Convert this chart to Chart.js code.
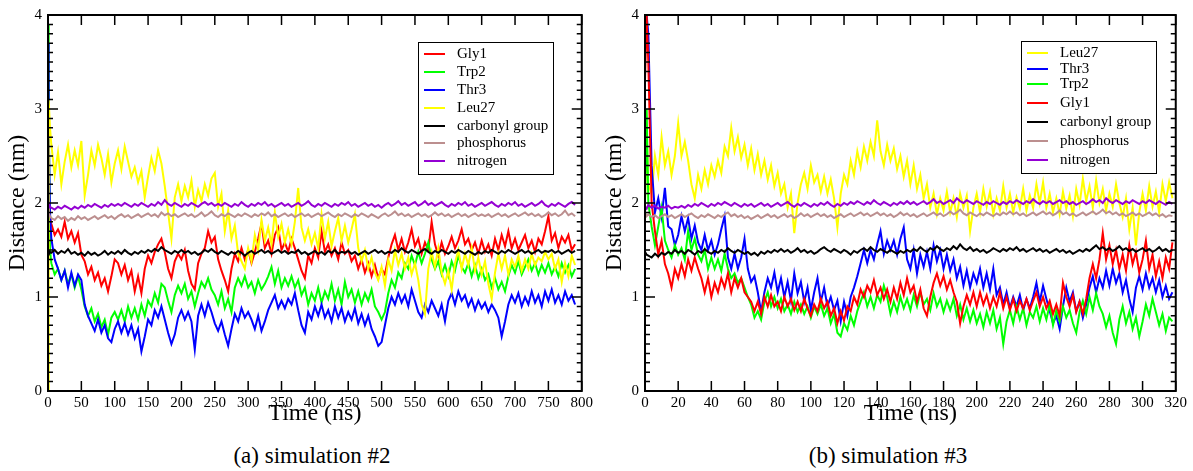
<!DOCTYPE html>
<html>
<head>
<meta charset="utf-8">
<script src="https://cdn.jsdelivr.net/npm/chart.js@4.4.1/dist/chart.umd.min.js"></script>
<style>
    body { margin: 0; background: #fff; width: 1193px; height: 471px; position: relative; overflow: hidden; font-family: "Liberation Serif", "Times New Roman", serif; }
    .panel { position: absolute; top: 0; height: 430px; }
    #boxA { left: 0; width: 596px; }
    #boxB { left: 597px; width: 593px; }
    .caption { position: absolute; top: 442px; font-size: 23px; line-height: 28px; text-align: center; width: 300px; color: #000; }
</style>
</head>
<body>
<div class="panel" id="boxA"><canvas id="chartA"></canvas></div>
<div class="panel" id="boxB"><canvas id="chartB"></canvas></div>
<div class="caption" style="left:162px">(a) simulation #2</div>
<div class="caption" style="left:738px">(b) simulation #3</div>
<script>
// ---- simulation #2 (time in ns) ----
const timeA = [0, 1, 3,
    5, 10, 15, 20, 25, 30, 35, 40, 45, 50, 55, 60, 65, 70, 75, 80, 85, 90, 95, 100,
    105, 110, 115, 120, 125, 130, 135, 140, 145, 150, 155, 160, 165, 170, 175, 180, 185, 190, 195, 200,
    205, 210, 215, 220, 225, 230, 235, 240, 245, 250, 255, 260, 265, 270, 275, 280, 285, 290, 295, 300,
    305, 310, 315, 320, 325, 330, 335, 340, 345, 350, 355, 360, 365, 370, 375, 380, 385, 390, 395, 400,
    405, 410, 415, 420, 425, 430, 435, 440, 445, 450, 455, 460, 465, 470, 475, 480, 485, 490, 495, 500,
    505, 510, 515, 520, 525, 530, 535, 540, 545, 550, 555, 560, 565, 570, 575, 580, 585, 590, 595, 600,
    605, 610, 615, 620, 625, 630, 635, 640, 645, 650, 655, 660, 665, 670, 675, 680, 685, 690, 695, 700,
    705, 710, 715, 720, 725, 730, 735, 740, 745, 750, 755, 760, 765, 770, 775, 780, 785, 790];

const gly1A = [3.1, 2.2, 1.85,
    1.78,1.66,1.72,1.64,1.80,1.62,1.70,1.58,1.68,1.45,
    1.38,1.24,1.32,1.18,1.26,1.12,1.20,1.06,1.22,1.40,
    1.36,1.24,1.34,1.18,1.28,1.06,1.22,1.04,1.30,1.44,
    1.36,1.48,1.56,1.62,1.48,1.30,1.20,1.38,1.46,1.40,
    1.50,1.28,1.14,1.08,1.36,1.46,1.52,1.70,1.58,1.64,
    1.40,1.28,1.18,1.06,1.30,1.46,1.38,1.52,1.40,1.50,
    1.36,1.48,1.62,1.78,1.52,1.60,1.46,1.66,1.74,1.50,
    1.58,1.48,1.62,1.52,1.40,1.28,1.20,1.44,1.36,1.52,
    1.42,1.70,1.48,1.56,1.44,1.52,1.40,1.58,1.46,1.50,
    1.38,1.44,1.30,1.40,1.26,1.36,1.22,1.34,1.20,1.30,
    1.24,1.42,1.56,1.66,1.50,1.62,1.48,1.58,1.72,1.54,
    1.62,1.46,1.58,1.50,1.80,1.56,1.44,1.58,1.46,1.54,
    1.64,1.52,1.60,1.72,1.56,1.62,1.50,1.58,1.46,1.60,
    1.48,1.56,1.44,1.62,1.50,1.66,1.54,1.70,1.52,1.62,
    1.50,1.58,1.66,1.52,1.60,1.48,1.62,1.56,1.70,1.86,
    1.60,1.68,1.52,1.64,1.58,1.66,1.50,1.56];

const trp2A = [3.9, 3.0, 1.5,
    1.36,1.24,1.30,1.18,1.28,1.14,1.24,1.10,1.22,1.08,
    0.90,0.80,0.88,0.74,0.82,0.68,0.76,0.60,0.78,0.84,
    0.76,0.86,0.74,0.90,0.78,0.88,0.76,0.92,0.80,0.96,
    0.90,1.04,0.94,1.14,1.10,0.96,0.84,1.02,1.12,1.04,
    1.14,0.98,1.06,0.90,1.04,1.16,1.10,1.20,1.08,1.02,
    0.92,1.06,0.88,0.98,0.84,1.10,1.20,1.12,1.22,1.10,
    1.16,1.04,1.18,1.08,1.14,1.22,1.32,1.14,1.28,1.10,
    1.20,1.12,1.22,1.10,1.18,1.02,1.10,0.92,1.04,0.96,
    1.10,0.94,1.06,0.98,1.14,0.96,1.08,0.92,1.16,1.00,
    1.08,0.94,1.06,0.92,1.04,0.96,1.08,0.90,0.84,0.76,
    0.84,1.04,1.18,1.10,1.26,1.20,1.36,1.30,1.44,1.34,
    1.48,1.36,1.46,1.58,1.40,1.30,1.38,1.24,1.34,1.22,
    1.38,1.28,1.44,1.32,1.26,1.36,1.22,1.34,1.20,1.30,
    1.18,1.24,1.10,1.20,1.08,1.16,1.06,1.22,1.34,1.26,
    1.38,1.24,1.32,1.40,1.28,1.36,1.24,1.34,1.26,1.36,
    1.24,1.32,1.22,1.36,1.26,1.34,1.22,1.30];

const thr3A = [3.7, 2.8, 1.9,
    1.62,1.40,1.30,1.18,1.28,1.10,1.26,1.12,1.24,1.18,
    0.92,0.80,0.72,0.64,0.76,0.62,0.70,0.56,0.52,0.66,
    0.74,0.62,0.72,0.60,0.70,0.56,0.66,0.42,0.58,0.76,
    0.70,0.86,0.78,0.90,0.76,0.62,0.50,0.60,0.78,0.86,
    0.76,0.84,0.74,0.44,0.80,0.92,0.80,0.94,0.84,0.72,
    0.64,0.74,0.60,0.48,0.66,0.82,0.74,0.88,0.78,0.84,
    0.76,0.66,0.80,0.64,0.74,0.86,0.94,1.02,0.88,0.96,
    0.88,0.98,0.92,1.04,0.86,0.70,0.62,0.84,0.76,0.90,
    0.80,0.92,0.78,0.86,0.74,0.90,0.78,0.88,0.74,0.84,
    0.76,0.88,0.72,0.82,0.70,0.80,0.66,0.58,0.48,0.52,
    0.70,0.88,1.00,0.92,1.04,0.94,1.02,0.90,1.08,0.96,
    0.84,0.78,0.92,0.84,0.96,0.88,0.80,0.92,0.74,0.96,
    1.04,0.92,1.06,0.96,1.02,0.90,0.98,0.86,0.96,0.88,
    0.94,0.84,0.92,0.86,0.78,0.58,0.74,0.92,1.02,0.94,
    1.04,0.90,1.00,0.92,1.06,0.94,1.02,0.90,1.06,0.96,
    1.08,0.94,1.02,0.92,1.06,0.96,1.02,0.92];

const leu27A = [0.0, 3.1, 2.8,
    2.62,2.30,2.54,2.20,2.44,2.62,2.38,2.56,2.40,2.66,
    2.08,2.30,2.56,2.40,2.62,2.48,2.30,2.52,2.22,2.42,
    2.56,2.36,2.60,2.44,2.28,2.38,2.22,2.34,2.06,2.28,
    2.48,2.34,2.56,2.42,2.18,1.90,1.62,2.06,2.20,2.02,
    2.18,2.06,2.24,1.96,2.14,2.02,2.20,2.08,2.26,2.32,
    1.96,2.10,1.70,1.92,1.62,1.76,1.46,1.38,1.30,1.52,
    1.38,1.66,1.50,1.82,1.60,1.74,1.56,1.90,1.64,1.78,
    1.58,1.72,1.56,1.80,2.16,1.74,1.60,1.72,1.56,1.68,
    1.52,1.88,1.62,1.80,1.54,1.70,1.84,1.60,1.76,1.58,
    1.72,1.88,1.52,1.38,1.50,1.30,1.42,1.26,1.18,1.32,
    1.12,1.40,1.28,1.50,1.34,1.46,1.30,1.42,1.24,1.36,
    1.18,0.92,0.82,1.30,1.48,1.32,1.52,1.26,1.14,1.28,
    1.08,1.36,1.50,1.30,1.46,1.34,1.52,1.28,1.42,1.24,
    1.38,1.14,0.98,1.26,1.46,1.30,1.44,1.24,1.40,1.32,
    1.44,1.28,1.40,1.30,1.46,1.34,1.42,1.38,1.48,1.40,
    1.46,1.30,1.40,1.16,1.36,1.22,1.44,1.34];

const carbonylA = [1.50, 1.45, 1.48,
    1.47,1.50,1.46,1.49,1.47,1.51,1.46,1.48,1.45,1.47,
    1.44,1.48,1.45,1.47,1.44,1.46,1.49,1.45,1.48,1.46,
    1.49,1.46,1.50,1.47,1.45,1.48,1.46,1.49,1.47,1.50,
    1.48,1.51,1.49,1.53,1.50,1.48,1.46,1.49,1.47,1.50,
    1.47,1.49,1.46,1.48,1.45,1.47,1.50,1.48,1.51,1.48,
    1.46,1.49,1.47,1.45,1.48,1.46,1.49,1.47,1.44,1.47,
    1.49,1.46,1.48,1.50,1.47,1.49,1.46,1.48,1.50,1.47,
    1.49,1.46,1.48,1.47,1.50,1.46,1.48,1.45,1.47,1.49,
    1.46,1.48,1.45,1.49,1.47,1.50,1.46,1.48,1.47,1.49,
    1.46,1.48,1.45,1.47,1.49,1.46,1.48,1.50,1.47,1.49,
    1.46,1.48,1.47,1.50,1.48,1.52,1.49,1.47,1.50,1.48,
    1.46,1.49,1.51,1.48,1.46,1.49,1.47,1.50,1.48,1.46,
    1.49,1.47,1.50,1.48,1.46,1.49,1.47,1.45,1.48,1.46,
    1.49,1.47,1.50,1.48,1.46,1.49,1.47,1.50,1.48,1.46,
    1.48,1.50,1.47,1.49,1.46,1.48,1.50,1.47,1.49,1.48,
    1.50,1.47,1.49,1.46,1.48,1.50,1.47,1.49];

const phosphorusA = [1.95, 1.90, 1.86,
    1.84,1.82,1.86,1.83,1.85,1.81,1.84,1.82,1.86,1.83,
    1.85,1.82,1.84,1.86,1.83,1.85,1.87,1.84,1.86,1.83,
    1.86,1.88,1.85,1.87,1.84,1.86,1.88,1.85,1.87,1.89,
    1.86,1.88,1.85,1.90,1.87,1.89,1.86,1.88,1.85,1.87,
    1.89,1.86,1.88,1.85,1.87,1.90,1.86,1.88,1.91,1.87,
    1.85,1.88,1.86,1.89,1.87,1.85,1.88,1.86,1.89,1.87,
    1.85,1.88,1.86,1.89,1.87,1.90,1.86,1.88,1.85,1.87,
    1.89,1.86,1.88,1.85,1.87,1.89,1.86,1.88,1.85,1.87,
    1.89,1.86,1.88,1.90,1.87,1.85,1.88,1.86,1.89,1.87,
    1.85,1.88,1.86,1.89,1.87,1.85,1.88,1.86,1.84,1.87,
    1.89,1.86,1.88,1.91,1.87,1.89,1.86,1.88,1.85,1.87,
    1.89,1.86,1.88,1.85,1.87,1.90,1.87,1.89,1.86,1.88,
    1.85,1.87,1.89,1.86,1.88,1.85,1.87,1.89,1.86,1.88,
    1.86,1.88,1.85,1.87,1.89,1.86,1.88,1.85,1.87,1.89,
    1.86,1.88,1.90,1.87,1.89,1.86,1.88,1.85,1.87,1.90,
    1.87,1.89,1.86,1.88,1.92,1.87,1.89,1.86];

const nitrogenA = [1.95, 2.00, 1.96,
    1.95,1.93,1.96,1.94,1.97,1.95,1.93,1.96,1.94,1.97,
    1.95,1.98,1.96,1.99,1.97,1.95,1.98,1.96,1.99,1.97,
    1.99,1.97,2.00,1.98,1.96,1.99,1.97,2.00,1.98,1.96,
    1.99,1.97,2.01,1.98,2.03,1.99,1.97,2.00,1.98,1.96,
    1.99,1.97,2.00,1.98,1.96,1.99,2.01,1.98,2.00,1.97,
    1.99,1.97,2.00,1.98,1.96,1.99,1.97,2.01,1.98,1.96,
    1.99,1.97,2.00,1.98,2.01,1.97,1.99,1.96,1.98,2.00,
    1.97,1.99,1.96,1.98,2.00,1.97,1.99,2.02,1.98,1.96,
    1.99,1.97,2.00,1.98,1.96,1.99,1.97,2.00,1.98,2.01,
    1.97,1.99,1.96,1.98,2.00,1.97,1.99,1.96,1.98,1.95,
    1.98,2.00,1.97,1.99,2.02,1.98,2.00,1.97,1.99,2.01,
    1.97,1.99,2.02,1.98,2.00,1.97,1.99,2.01,1.98,1.96,
    1.99,1.97,2.00,1.98,2.01,1.97,1.99,1.96,1.98,2.00,
    1.97,1.99,2.01,1.98,1.96,1.99,1.97,2.00,1.98,2.01,
    1.97,1.99,1.96,1.98,2.00,1.97,1.99,2.02,1.98,1.96,
    1.99,1.97,2.00,1.98,1.96,1.99,2.01,1.98];

// ---- simulation #3 (time in ns) ----
const timeB = [0, 1,
    2, 4, 6, 8, 10, 12, 14, 16, 18, 20, 22, 24, 26, 28, 30, 32, 34, 36, 38, 40,
    42, 44, 46, 48, 50, 52, 54, 56, 58, 60, 62, 64, 66, 68, 70, 72, 74, 76, 78, 80,
    82, 84, 86, 88, 90, 92, 94, 96, 98, 100, 102, 104, 106, 108, 110, 112, 114, 116, 118, 120,
    122, 124, 126, 128, 130, 132, 134, 136, 138, 140, 142, 144, 146, 148, 150, 152, 154, 156, 158, 160,
    162, 164, 166, 168, 170, 172, 174, 176, 178, 180, 182, 184, 186, 188, 190, 192, 194, 196, 198, 200,
    202, 204, 206, 208, 210, 212, 214, 216, 218, 220, 222, 224, 226, 228, 230, 232, 234, 236, 238, 240,
    242, 244, 246, 248, 250, 252, 254, 256, 258, 260, 262, 264, 266, 268, 270, 272, 274, 276, 278, 280,
    282, 284, 286, 288, 290, 292, 294, 296, 298, 300, 302, 304, 306, 308, 310, 312, 314, 316, 318];

const leu27B = [2.0, 2.7,
    2.2,2.1,2.5,2.3,2.7,2.4,2.55,2.3,2.5,2.85,
    2.5,2.65,2.45,2.2,2.05,2.3,2.15,2.35,2.2,2.4,
    2.28,2.45,2.32,2.6,2.5,2.8,2.55,2.7,2.48,2.62,
    2.4,2.58,2.35,2.52,2.3,2.45,2.25,2.4,2.18,2.32,
    2.1,2.2,1.95,2.1,1.68,2.0,2.2,2.32,2.15,2.4,
    2.22,2.3,2.12,2.28,2.1,2.25,2.05,1.74,2.1,2.3,
    2.2,2.45,2.3,2.55,2.38,2.6,2.45,2.65,2.5,2.88,
    2.55,2.4,2.62,2.45,2.58,2.36,2.5,2.28,2.45,2.2,
    2.4,2.15,2.3,2.05,2.2,1.95,2.1,1.88,2.05,1.92,
    2.12,1.9,2.05,1.85,2.1,1.95,2.08,1.7,1.95,2.1,
    1.9,2.15,1.96,2.12,1.88,2.05,1.92,2.18,1.95,2.1,
    1.9,2.06,1.94,2.15,1.92,2.08,1.95,2.2,2.0,2.22,
    1.95,2.1,1.9,2.05,1.88,2.12,1.94,2.08,1.86,2.15,
    1.98,2.26,2.02,2.18,1.95,2.24,2.0,2.15,1.92,2.1,
    1.96,2.2,2.0,1.85,2.05,1.72,1.95,1.55,1.9,2.1,
    1.92,2.18,1.96,2.12,1.9,2.2,2.02,2.22,2.05];

const thr3B = [3.9, 4.0,
    3.8,2.4,1.9,2.05,1.85,2.16,1.75,1.72,1.55,1.66,
    1.86,1.7,1.84,1.62,1.76,1.58,1.5,1.66,1.5,1.6,
    1.45,1.56,1.72,1.86,1.42,1.3,1.46,1.3,1.42,1.62,
    1.3,1.16,1.22,1.05,0.84,1.05,1.2,1.1,1.26,1.05,
    1.2,1.0,1.16,0.96,1.25,1.04,1.16,0.95,1.1,0.86,
    1.05,1.2,0.95,1.1,0.9,1.0,0.86,0.96,0.74,0.95,
    0.8,1.0,1.1,1.22,1.36,1.5,1.36,1.5,1.4,1.56,
    1.7,1.46,1.6,1.5,1.6,1.45,1.62,1.74,1.4,1.3,
    1.5,1.25,1.45,1.32,1.48,1.3,1.55,1.38,1.5,1.3,
    1.45,1.28,1.4,1.2,1.32,1.12,1.28,1.1,1.25,1.15,
    1.3,1.1,1.25,1.08,1.3,1.02,1.1,0.92,1.05,0.88,
    1.0,0.9,1.02,0.86,0.98,0.88,1.0,1.15,0.95,1.12,
    0.98,0.85,0.72,0.8,0.66,0.9,1.1,0.95,1.05,0.85,
    0.95,0.78,0.92,1.1,1.22,1.05,1.2,1.1,1.28,1.12,
    1.3,1.15,1.25,1.05,1.18,0.98,0.84,1.1,1.22,1.08,
    1.25,1.1,1.2,1.05,1.18,1.0,1.12,0.98,1.05];

const trp2B = [2.0, 3.0,
    2.0,1.75,1.55,1.75,1.95,1.6,1.5,1.42,1.55,1.45,
    1.52,1.4,1.7,1.5,1.62,1.45,1.38,1.5,1.3,1.42,
    1.3,1.4,1.28,1.46,1.3,1.2,1.25,1.15,1.2,1.1,
    1.0,0.92,0.78,0.85,0.76,0.95,1.05,0.9,1.0,0.88,
    0.98,0.85,0.92,0.82,0.95,0.84,0.92,0.82,0.9,0.78,
    0.9,0.82,0.92,0.8,0.88,0.72,0.82,0.62,0.58,0.72,
    0.65,0.8,0.7,0.85,0.95,1.05,0.9,1.0,0.88,1.02,
    0.95,1.12,1.0,0.82,0.95,0.84,1.0,0.88,0.98,0.86,
    1.02,0.9,1.05,0.92,0.98,0.86,1.04,0.9,0.98,0.84,
    0.96,0.86,0.98,0.8,0.92,0.76,0.88,0.74,0.86,0.72,
    0.82,0.68,0.84,0.72,0.86,0.66,0.78,0.5,0.74,0.86,
    0.72,0.9,0.76,0.88,0.7,0.84,0.78,0.9,0.74,0.88,
    0.76,0.92,0.7,0.86,0.74,0.9,0.78,0.86,0.72,0.62,
    0.84,0.96,0.82,1.0,0.86,1.04,0.9,0.82,0.68,0.8,
    0.62,0.5,0.76,0.9,0.72,0.84,0.66,0.78,0.58,0.74,
    0.92,0.8,0.98,0.84,0.7,0.82,0.64,0.78,0.74];

const gly1B = [3.3, 4.0,
    3.5,2.0,1.7,1.45,1.6,1.35,1.25,1.1,1.3,1.2,
    1.35,1.22,1.4,1.28,1.42,1.3,1.2,1.05,1.2,1.0,
    1.15,1.05,1.2,1.1,1.25,1.05,1.2,1.1,1.2,1.05,
    1.0,0.95,0.85,0.95,0.82,1.0,0.9,1.02,0.9,0.95,
    0.85,1.0,0.9,0.98,0.86,0.95,0.85,0.98,0.88,0.8,
    0.92,0.85,0.98,0.88,0.95,0.8,0.88,0.72,0.85,0.75,
    0.9,0.85,1.0,0.92,1.08,1.0,1.12,1.05,1.18,1.02,
    1.1,0.98,1.08,0.95,1.1,0.98,1.15,1.02,1.2,1.05,
    1.12,0.95,1.08,0.88,0.8,1.0,1.15,1.25,1.12,1.22,
    1.08,1.18,1.05,0.95,0.72,0.9,1.02,0.92,1.05,0.9,
    1.05,0.92,1.02,0.88,1.0,0.9,1.05,0.88,1.0,0.86,
    0.98,0.85,0.96,0.88,0.98,0.86,0.96,1.05,0.9,1.0,
    0.88,0.96,0.82,0.92,0.8,1.15,1.0,0.9,1.02,0.84,
    0.95,0.82,0.98,1.2,1.35,1.2,1.4,1.68,1.4,1.55,
    1.35,1.5,1.3,1.45,1.28,1.55,1.35,1.48,1.26,1.4,
    1.6,1.3,1.45,1.22,1.38,1.2,1.42,1.3,1.58];

const carbonylB = [1.48, 1.45,
    1.44,1.42,1.46,1.43,1.47,1.45,1.48,1.46,1.50,1.47,
    1.49,1.46,1.50,1.48,1.45,1.49,1.47,1.51,1.48,1.46,
    1.49,1.47,1.50,1.48,1.52,1.49,1.47,1.50,1.48,1.46,
    1.48,1.45,1.47,1.44,1.48,1.46,1.49,1.47,1.50,1.48,
    1.51,1.48,1.50,1.47,1.49,1.52,1.48,1.50,1.47,1.49,
    1.46,1.48,1.51,1.53,1.50,1.48,1.51,1.49,1.47,1.50,
    1.48,1.45,1.49,1.47,1.50,1.52,1.49,1.53,1.50,1.48,
    1.51,1.49,1.47,1.50,1.48,1.46,1.49,1.47,1.50,1.48,
    1.51,1.49,1.53,1.50,1.48,1.52,1.50,1.54,1.51,1.49,
    1.52,1.50,1.54,1.51,1.56,1.52,1.50,1.53,1.49,1.51,
    1.48,1.50,1.47,1.49,1.52,1.50,1.48,1.51,1.49,1.52,
    1.50,1.53,1.49,1.51,1.48,1.50,1.52,1.49,1.51,1.48,
    1.50,1.47,1.49,1.51,1.48,1.50,1.47,1.49,1.46,1.48,
    1.50,1.48,1.51,1.49,1.52,1.55,1.51,1.53,1.50,1.52,
    1.49,1.51,1.54,1.50,1.52,1.49,1.51,1.48,1.50,1.52,
    1.49,1.51,1.48,1.50,1.53,1.49,1.51,1.48,1.50];

const phosphorusB = [1.90, 1.86,
    1.88,1.85,1.87,1.84,1.86,1.88,1.85,1.87,1.84,1.86,
    1.88,1.85,1.87,1.89,1.86,1.84,1.87,1.85,1.88,1.86,
    1.84,1.87,1.85,1.88,1.90,1.86,1.88,1.85,1.87,1.84,
    1.86,1.83,1.85,1.87,1.84,1.86,1.88,1.85,1.87,1.84,
    1.86,1.88,1.85,1.87,1.84,1.86,1.89,1.86,1.88,1.85,
    1.87,1.89,1.86,1.88,1.85,1.87,1.84,1.86,1.88,1.85,
    1.87,1.89,1.86,1.88,1.90,1.87,1.89,1.86,1.88,1.90,
    1.87,1.89,1.86,1.88,1.85,1.87,1.90,1.87,1.89,1.86,
    1.88,1.85,1.87,1.89,1.86,1.88,1.90,1.87,1.89,1.86,
    1.88,1.91,1.88,1.90,1.93,1.89,1.87,1.90,1.88,1.86,
    1.89,1.87,1.90,1.88,1.86,1.89,1.87,1.90,1.88,1.91,
    1.88,1.90,1.87,1.89,1.86,1.88,1.90,1.87,1.89,1.91,
    1.88,1.90,1.87,1.89,1.92,1.88,1.90,1.87,1.89,1.86,
    1.88,1.90,1.87,1.89,1.91,1.88,1.90,1.93,1.89,1.91,
    1.88,1.90,1.87,1.89,1.86,1.88,1.90,1.87,1.89,1.86,
    1.88,1.90,1.87,1.89,1.86,1.88,1.85,1.87,1.86];

const nitrogenB = [1.96, 1.94,
    1.98,1.95,1.97,1.94,1.96,1.95,1.97,1.94,1.96,1.95,
    1.97,1.95,1.98,1.96,1.99,1.97,2.00,1.98,1.96,1.99,
    1.97,2.00,1.98,2.01,1.99,1.97,2.00,1.98,1.96,1.99,
    1.97,1.99,1.96,1.98,2.00,1.97,1.99,1.96,1.98,2.00,
    1.97,1.99,2.01,1.98,1.96,1.99,1.97,2.00,1.98,1.96,
    1.99,1.97,2.00,1.98,2.01,1.98,1.96,1.99,1.97,2.00,
    1.98,2.01,1.99,2.02,2.00,1.98,2.01,1.99,2.03,2.00,
    1.98,2.01,1.99,1.97,2.00,1.98,2.01,1.99,2.02,1.99,
    2.01,1.98,2.00,2.02,1.99,2.01,2.04,2.00,2.02,1.99,
    2.01,2.03,2.00,2.05,2.02,2.00,2.03,2.01,1.99,2.02,
    2.00,1.98,2.01,1.99,2.02,2.00,1.98,2.01,1.99,2.02,
    2.00,2.03,2.01,1.99,2.02,2.00,2.04,2.01,1.99,2.02,
    2.00,2.02,1.99,2.01,2.03,2.00,2.02,1.99,2.01,1.98,
    2.00,2.02,1.99,2.01,2.04,2.01,2.03,2.00,2.05,2.02,
    2.00,2.03,2.01,1.99,2.02,2.00,2.03,2.01,1.99,2.02,
    2.00,2.03,2.01,1.99,2.02,2.00,1.98,2.01,1.99];

// Series colours (xmgrace defaults)
const RED = 'rgb(255, 0, 0)';
const GREEN = 'rgb(0, 255, 0)';
const BLUE = 'rgb(0, 0, 255)';
const YELLOW = 'rgb(255, 255, 0)';
const BLACK = 'rgb(0, 0, 0)';
const BROWN = 'rgb(188, 143, 143)';
const VIOLET = 'rgb(148, 0, 211)';

const serif = '"Liberation Serif", "Times New Roman", serif';
Chart.defaults.font.family = serif;
Chart.defaults.color = '#000';

function isMajor(v) {
    return Math.abs(v - Math.round(v)) < 1e-6;
}

// Frame with inward major/minor ticks on all four sides
const frameTicks = {
    id: 'frameTicks',
    afterDatasetsDraw(chart) {
        const { ctx, chartArea: a, scales: { x, y } } = chart;
        ctx.save();
        ctx.strokeStyle = '#000';
        ctx.lineWidth = 1.5;
        ctx.beginPath();
        y.ticks.forEach(t => {
            const py = y.getPixelForValue(t.value);
            const len = isMajor(t.value) ? 10 : 5;
            ctx.moveTo(a.left, py);
            ctx.lineTo(a.left + len, py);
            ctx.moveTo(a.right, py);
            ctx.lineTo(a.right - len, py);
        });
        x.ticks.forEach(t => {
            const px = x.getPixelForValue(t.value);
            ctx.moveTo(px, a.bottom);
            ctx.lineTo(px, a.bottom - 10);
            ctx.moveTo(px, a.top);
            ctx.lineTo(px, a.top + 10);
        });
        ctx.stroke();
        ctx.lineWidth = 2;
        ctx.strokeRect(a.left, a.top, a.width, a.height);
        ctx.restore();
    },
};

// Boxed legend inside the plot, like the xmgrace one
const boxLegend = {
    id: 'boxLegend',
    afterDraw(chart, args, opts) {
        const ctx = chart.ctx;
        ctx.save();
        ctx.fillStyle = '#fff';
        ctx.fillRect(opts.x, opts.y, opts.w, opts.h);
        ctx.strokeStyle = '#000';
        ctx.lineWidth = 1;
        ctx.strokeRect(opts.x + 0.5, opts.y + 0.5, opts.w, opts.h);
        ctx.font = '15px ' + serif;
        ctx.textBaseline = 'middle';
        ctx.fillStyle = '#000';
        chart.data.datasets.forEach((ds, i) => {
            const ry = opts.rows[i];
            ctx.strokeStyle = ds.borderColor;
            ctx.lineWidth = 2;
            ctx.beginPath();
            ctx.moveTo(opts.x + 6, ry);
            ctx.lineTo(opts.x + 27, ry);
            ctx.stroke();
            ctx.fillText(ds.label, opts.x + 39, ry);
        });
        ctx.restore();
    },
};

function makeSeries(label, times, values, color, i) {
    return {
        label: label,
        data: times.map((t, k) => ({ x: t, y: values[k] })),
        borderColor: color,
        borderWidth: 2,
        pointRadius: 0,
        tension: 0,
        fill: false,
        order: -i,
    };
}

function makeChart(id, datasets, xMax, xStep, legend) {
    return new Chart(document.getElementById(id), {
        type: 'line',
        data: { datasets: datasets },
        plugins: [frameTicks, boxLegend],
        options: {
            responsive: true,
            maintainAspectRatio: false,
            animation: false,
            layout: { padding: { top: 15, right: 12, left: 0, bottom: 0 } },
            plugins: {
                legend: { display: false },
                tooltip: { enabled: false },
                boxLegend: legend,
            },
            scales: {
                x: {
                    type: 'linear',
                    min: 0,
                    max: xMax,
                    grid: { display: false, drawTicks: false },
                    border: { display: false },
                    ticks: { stepSize: xStep, autoSkip: false, maxRotation: 0, padding: 3, font: { size: 15 } },
                    title: { display: true, text: 'Time (ns)', font: { size: 24 }, padding: { top: 0, bottom: 2 } },
                    afterFit(s) { s.height = 39; },
                },
                y: {
                    min: 0,
                    max: 4,
                    grid: { display: false, drawTicks: false },
                    border: { display: false },
                    ticks: {
                        stepSize: 0.1,
                        autoSkip: false,
                        maxTicksLimit: 100,
                        padding: 6,
                        font: { size: 15 },
                        callback: v => (isMajor(v) ? String(Math.round(v)) : ''),
                    },
                    title: { display: true, text: 'Distance (nm)', font: { size: 24 }, padding: { top: 3, bottom: 0 } },
                    afterFit(s) { s.width = 48; },
                },
            },
        },
    });
}

makeChart('chartA', [
    makeSeries('Gly1', timeA, gly1A, RED, 0),
    makeSeries('Trp2', timeA, trp2A, GREEN, 1),
    makeSeries('Thr3', timeA, thr3A, BLUE, 2),
    makeSeries('Leu27', timeA, leu27A, YELLOW, 3),
    makeSeries('carbonyl group', timeA, carbonylA, BLACK, 4),
    makeSeries('phosphorus', timeA, phosphorusA, BROWN, 5),
    makeSeries('nitrogen', timeA, nitrogenA, VIOLET, 6),
], 800, 50, { x: 418, y: 42, w: 135, h: 132, rows: [54, 72, 90, 108, 126, 143, 161] });

makeChart('chartB', [
    makeSeries('Leu27', timeB, leu27B, YELLOW, 0),
    makeSeries('Thr3', timeB, thr3B, BLUE, 1),
    makeSeries('Trp2', timeB, trp2B, GREEN, 2),
    makeSeries('Gly1', timeB, gly1B, RED, 3),
    makeSeries('carbonyl group', timeB, carbonylB, BLACK, 4),
    makeSeries('phosphorus', timeB, phosphorusB, BROWN, 5),
    makeSeries('nitrogen', timeB, nitrogenB, VIOLET, 6),
], 320, 20, { x: 424, y: 41, w: 135, h: 132, rows: [53, 69, 84, 103, 122, 141, 160] });
</script>
</body>
</html>
